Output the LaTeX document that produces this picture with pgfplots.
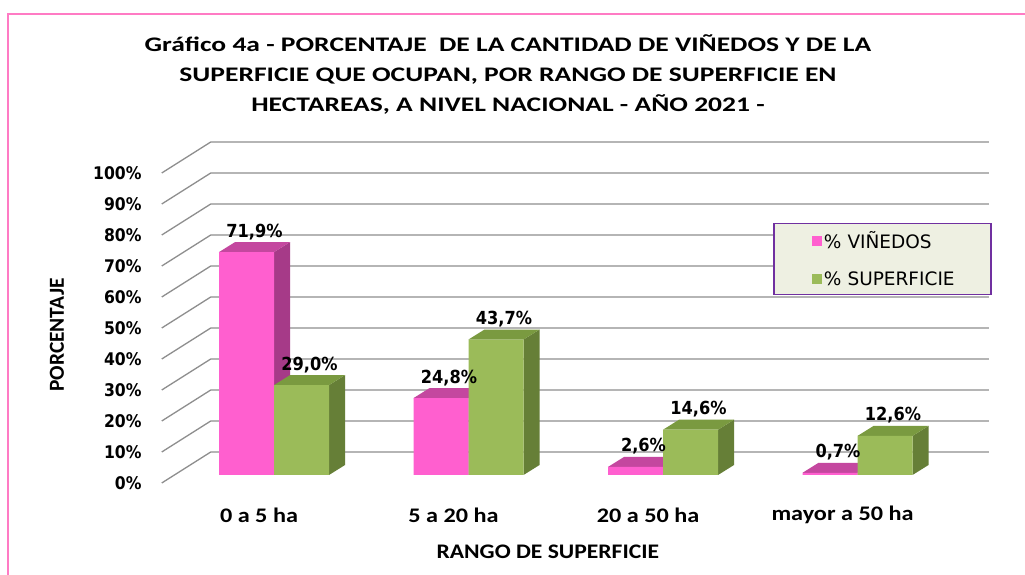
\documentclass[border=0pt]{standalone}
\usepackage{pgfplots}
\pgfplotsset{compat=1.18}
\usepackage{pgfplotstable}
\usepackage{fontspec}
\setmainfont{DejaVu Sans}
\newfontfamily\titlefont[FakeStretch=1.33]{Carlito}
\newfontfamily\catfont[FakeStretch=1.17]{Carlito}
\newfontfamily\xlabfont[FakeStretch=1.14]{Carlito}
\newfontfamily\ylabfont{Carlito}
\newfontfamily\numfont[FakeStretch=0.9]{DejaVu Sans}
\newfontfamily\legfont{DejaVu Sans}

\definecolor{pinkfront}{HTML}{FF5FCF}
\definecolor{pinkside}{HTML}{A63A88}
\definecolor{pinktop}{HTML}{C4479F}
\definecolor{greenfront}{HTML}{9BBB59}
\definecolor{greenside}{HTML}{667F37}
\definecolor{greentop}{HTML}{7A9A40}
\definecolor{gridgray}{HTML}{8E8E8E}
\definecolor{framepink}{HTML}{FF7BC4}
\definecolor{legpurple}{HTML}{7030A0}
\definecolor{legbg}{HTML}{EEF0E2}

\pgfplotstableread{
cat vin sup
0 71.9 29.0
1 24.8 43.7
2 2.6 14.6
3 0.7 12.6
}\datos

% 3D side and top faces of a bar: #1 left x, #2 value, #3 side colour, #4 top colour
\newcommand\barcube[4]{%
  \pgfmathsetmacro\cubexl{#1}%
  \pgfmathsetmacro\cubexr{#1+0.2828}%
  \pgfmathsetmacro\cubexrr{#1+0.2828+0.0823}%
  \pgfmathsetmacro\cubexlr{#1+0.0823}%
  \pgfmathsetmacro\cubevt{#2+3.226}%
  \edef\cubetmp{%
    \noexpand\addplot[fill=#3, draw=none, forget plot] coordinates {(\cubexr,0) (\cubexrr,3.226) (\cubexrr,\cubevt) (\cubexr,#2)} -- cycle;
    \noexpand\addplot[fill=#4, draw=none, forget plot] coordinates {(\cubexl,#2) (\cubexlr,\cubevt) (\cubexrr,\cubevt) (\cubexr,#2)} -- cycle;
  }%
  \cubetmp
}

\pgfplotsset{
  barlabels/.style={
    draw=none, mark=none, forget plot,
    point meta=y,
    nodes near coords={\pgfmathprintnumber[fixed, fixed zerofill, precision=1, use comma]{\pgfplotspointmeta}\%},
    every node near coord/.append style={font=\numfont\bfseries\fontsize{18}{20}\selectfont, anchor=base, inner sep=0pt, yshift=15pt, xshift=8pt, text=black},
  }
}

\begin{document}
\begin{tikzpicture}
\useasboundingbox (0,0) rectangle (1025pt,575pt);
\fill[white] (0,0) rectangle (1025pt,575pt);
\draw[framepink, line width=2.5pt] (8pt,-5pt) -- (8pt,561pt) -- (1035pt,561pt);
\begin{axis}[
  at={(176.75pt,100pt)}, anchor=south west,
  scale only axis, width=778pt, height=310pt,
  xmin=-0.5, xmax=3.5, ymin=0, ymax=100,
  enlargelimits=false, clip=false,
  axis line style={draw=none}, tick style={draw=none},
  major tick length=0pt,
  xtick={0,1,2,3},
  xticklabels={0 a 5 ha, 5 a 20 ha, 20 a 50 ha, mayor a 50 ha},
  xticklabel style={font=\catfont\bfseries\fontsize{20.7}{24}\selectfont, anchor=center, yshift=-40pt, xshift=-15pt},
  ytick={0,10,20,30,40,50,60,70,80,90,100},
  /pgf/number format/assume math mode=true,
  yticklabel={\pgfmathprintnumber{\tick}\%},
  yticklabel style={font=\numfont\bfseries\fontsize{17.4}{20}\selectfont, anchor=east, inner sep=0pt, xshift=-35pt, yshift=-8pt},
  title={Gráfico 4a - PORCENTAJE\ \ DE LA CANTIDAD DE VIÑEDOS Y DE LA\\SUPERFICIE QUE OCUPAN, POR RANGO DE SUPERFICIE EN\\HECTAREAS, A NIVEL NACIONAL - AÑO 2021 -},
  title style={at={(axis description cs:0.4258,1.2742)}, anchor=center, align=center, font=\titlefont\bfseries\fontsize{20.7}{30}\selectfont},
  xlabel={RANGO DE SUPERFICIE},
  xlabel style={at={(axis description cs:0.477,-0.248)}, anchor=center, font=\xlabfont\bfseries\fontsize{20.7}{24}\selectfont},
  ylabel={PORCENTAJE},
  ylabel style={at={(axis description cs:-0.154,0.4516)}, anchor=center, font=\ylabfont\bfseries\fontsize{21.4}{24}\selectfont},
  legend style={at={(0.7664,0.8129)}, anchor=north west, draw=legpurple, line width=1.5pt, fill=legbg,
    font=\legfont\fontsize{18.5}{22}\selectfont, inner xsep=8pt, inner ysep=6pt, row sep=17pt,
    nodes={text width=157pt, align=left}},
  legend cell align=left,
  legend image code/.code={\path (-30pt,0pt); \path[#1] (0pt,-5pt) rectangle (10pt,5pt);},
]
\pgfplotsinvokeforeach{0,10,20,30,40,50,60,70,80,90,100}{
  \draw[gridgray, line width=1.3pt] ([shift={(-15pt,-8pt)}]axis cs:-0.5,#1) -- ([shift={(34pt,23pt)}]axis cs:-0.5,#1) -- ([shift={(34pt,23pt)}]axis cs:3.5,#1);
}
\pgfplotsforeachungrouped \i in {0,1,2,3}{%
  \pgfplotstablegetelem{\i}{vin}\of\datos
  \let\val\pgfplotsretval
  \pgfmathsetmacro\xx{\i-0.2828}%
  \barcube{\xx}{\val}{pinkside}{pinktop}%
}
\addplot[ybar, bar width=55pt, bar shift=-27.5pt, fill=pinkfront, draw=none] table[x=cat, y=vin]{\datos};
\addlegendentry{\% VIÑEDOS}
\pgfplotsforeachungrouped \i in {0,1,2,3}{%
  \pgfplotstablegetelem{\i}{sup}\of\datos
  \let\val\pgfplotsretval
  \pgfmathsetmacro\xx{\i}%
  \barcube{\xx}{\val}{greenside}{greentop}%
}
\addplot[ybar, bar width=55pt, bar shift=27.5pt, fill=greenfront, draw=none] table[x=cat, y=sup]{\datos};
\addlegendentry{\% SUPERFICIE}
% value labels
\addplot[barlabels] table[x expr=\thisrow{cat}-0.1414, y=vin]{\datos};
\addplot[barlabels] table[x expr=\thisrow{cat}+0.1414, y=sup]{\datos};
\end{axis}
\end{tikzpicture}
\end{document}
